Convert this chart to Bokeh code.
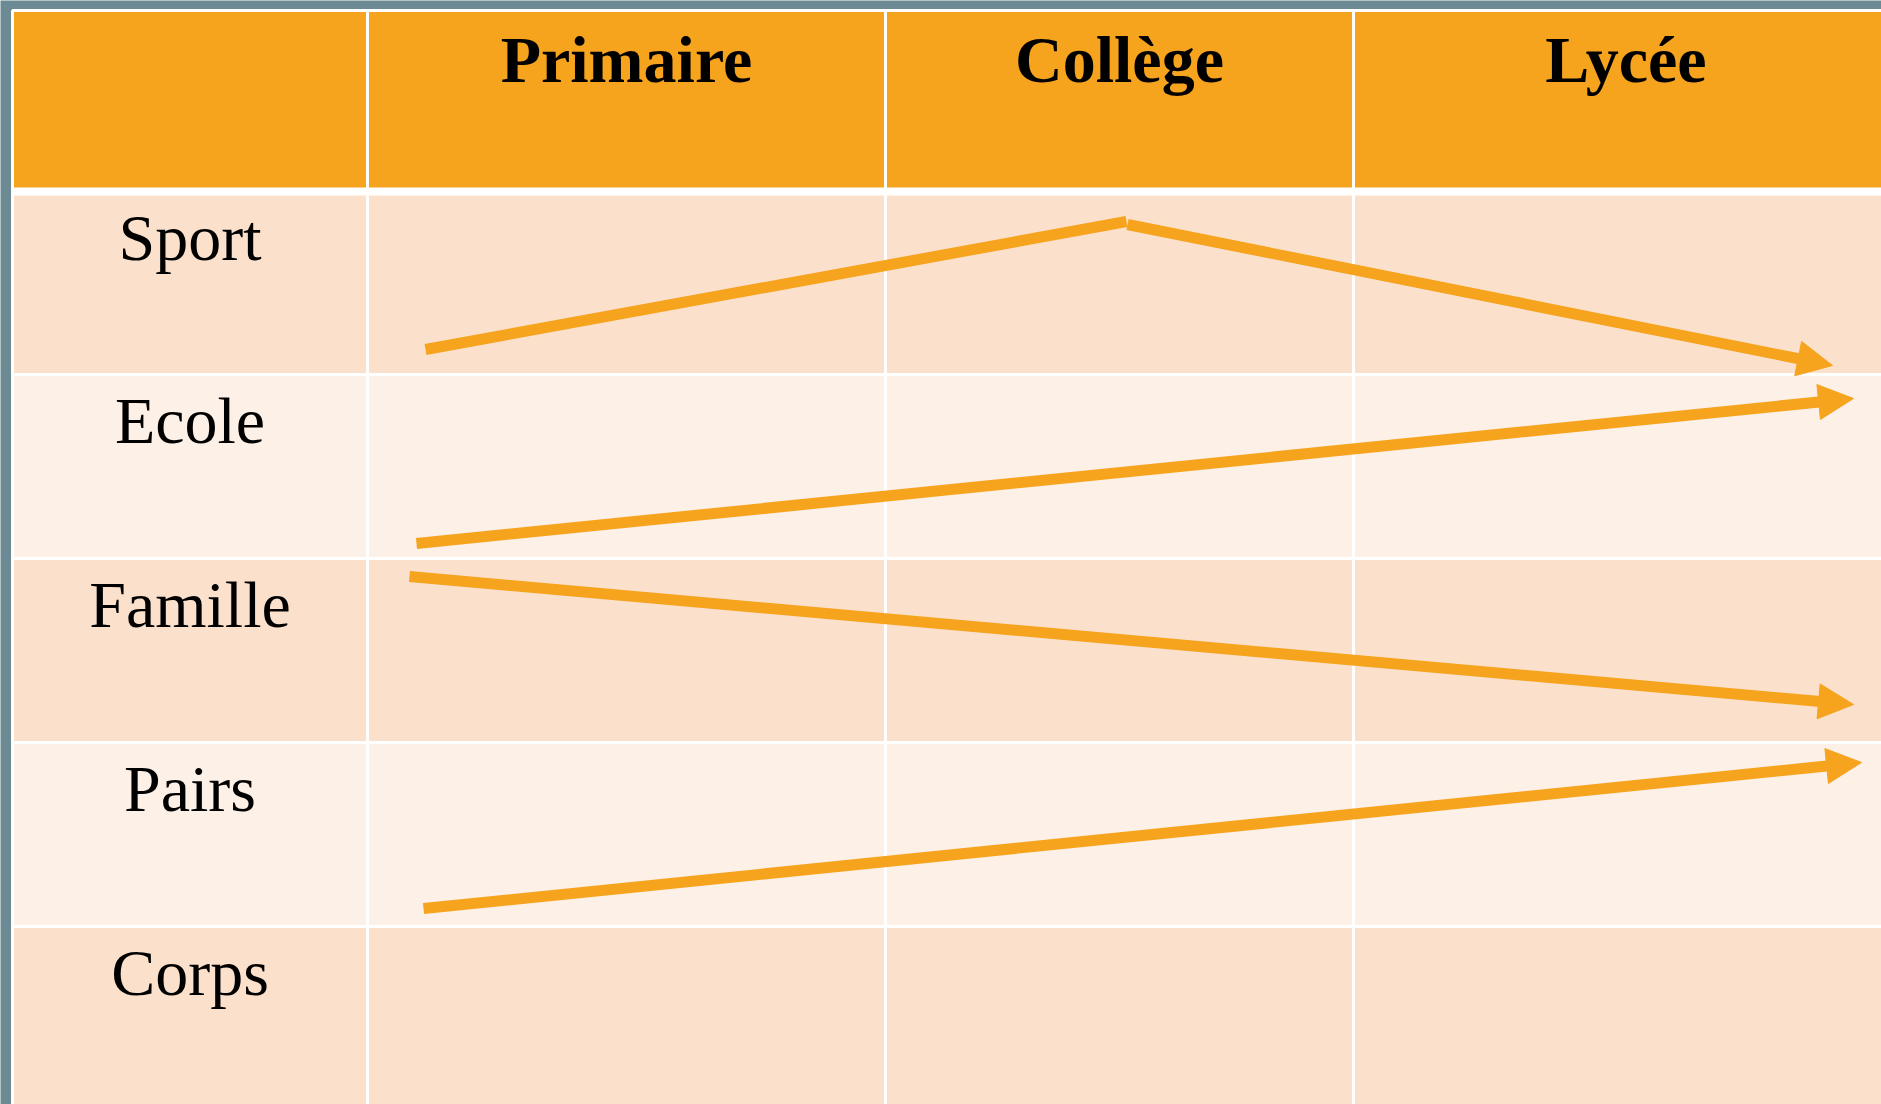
from bokeh.plotting import figure
from bokeh.models import Range1d, ColumnDataSource, Arrow, NormalHead
from bokeh.core.properties import value
from bokeh.embed import file_html
from bokeh.resources import INLINE

# ---- data ----
levels = ["Primaire", "Collège", "Lycée"]
categories = ["Sport", "Ecole", "Famille", "Pairs", "Corps"]

# trajectory segments (page pixel coordinates)
plain_x0 = [425]
plain_y0 = [349]
plain_x1 = [1126]
plain_y1 = [221]

arrow_x0 = [1127, 416, 409, 423]
arrow_y0 = [224, 543, 576, 908]
arrow_x1 = [1832, 1853, 1853, 1861]
arrow_y1 = [365, 398, 704, 762]

# ---- layout / style ----
W, H = 1881, 1104
BG = "#6B8A94"
ORANGE = "#F6A31E"
PEACH = "#FBE1CC"
LIGHT = "#FDF0E7"
col_edges = [12, 367, 885, 1353, 1898]
row_edges = [10, 191, 374, 558, 742, 926, 1110]
TXT_SHIFT = 24  # svg baseline correction

p = figure(width=W, height=H, output_backend="svg", toolbar_location=None,
           x_range=Range1d(0, W), y_range=Range1d(H, 0),
           min_border=0, background_fill_color=BG, border_fill_color=BG)
p.axis.visible = False
p.grid.visible = False
p.outline_line_color = None

lefts, rights, tops, bottoms, colors = [], [], [], [], []
for r in range(len(row_edges) - 1):
    for c in range(len(col_edges) - 1):
        lefts.append(col_edges[c]); rights.append(col_edges[c + 1])
        tops.append(row_edges[r]); bottoms.append(row_edges[r + 1])
        if r == 0:
            colors.append(ORANGE)
        else:
            colors.append(PEACH if r % 2 == 1 else LIGHT)
p.quad(left=lefts, right=rights, top=tops, bottom=bottoms,
       fill_color=colors, line_color="white", line_width=3)
p.segment(x0=[col_edges[0]], y0=[row_edges[1]], x1=[col_edges[-1]], y1=[row_edges[1]],
          line_color="white", line_width=8)

# header texts
hx = [(col_edges[i + 1] + col_edges[i + 2]) / 2 for i in range(len(levels))]
p.text(x=hx, y=[83 - TXT_SHIFT] * len(levels), text=levels,
       text_font=value("Liberation Serif"), text_font_style="bold",
       text_font_size="66px", text_align="center", text_baseline="alphabetic",
       text_color="black")

# row labels
lx = [(col_edges[0] + col_edges[1]) / 2] * len(categories)
ly = [row_edges[i + 1] + 70 - TXT_SHIFT for i in range(len(categories))]
p.text(x=lx, y=ly, text=categories,
       text_font=value("Liberation Serif"),
       text_font_size="66px", text_align="center", text_baseline="alphabetic",
       text_color="black")

# trajectories
p.segment(x0=plain_x0, y0=plain_y0, x1=plain_x1, y1=plain_y1,
          line_color=ORANGE, line_width=11, line_cap="butt")
src = ColumnDataSource(dict(x0=arrow_x0, y0=arrow_y0, x1=arrow_x1, y1=arrow_y1))
p.add_layout(Arrow(end=NormalHead(size=35, fill_color=ORANGE, line_color=ORANGE, line_width=1),
                   x_start="x0", y_start="y0", x_end="x1", y_end="y1", source=src,
                   line_color=ORANGE, line_width=11))

open("out.html", "w").write(file_html(p, INLINE))
